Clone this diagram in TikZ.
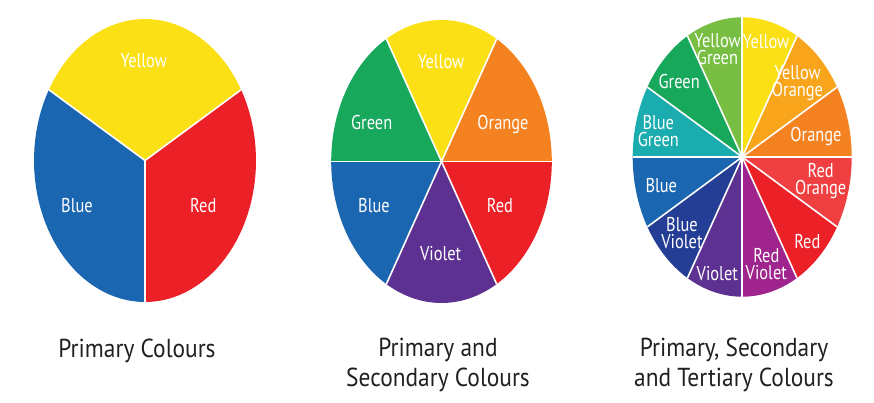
\documentclass[tikz,border=0pt]{standalone}
\usepackage{fontspec}
\setmainfont[FakeStretch=0.82]{PT Sans}
\newfontfamily\cwtitlefont[FakeStretch=0.9]{PT Sans}
\definecolor{cyel}{HTML}{FCE016}
\definecolor{cred}{HTML}{EC2027}
\definecolor{cblu}{HTML}{1B66B1}
\definecolor{cgrn}{HTML}{17A85C}
\definecolor{corg}{HTML}{F58221}
\definecolor{cvio}{HTML}{5D3191}
\definecolor{cyg}{HTML}{77BE43}
\definecolor{cyo}{HTML}{F9A51B}
\definecolor{cro}{HTML}{EF3F41}
\definecolor{crv}{HTML}{A0248E}
\definecolor{cbv}{HTML}{243E96}
\definecolor{cbg}{HTML}{1AACAF}
\definecolor{ctitle}{HTML}{231F20}
\newcommand\cwsector[5]{\fill[#5] (0,0) -- plot[domain=#3:#4,samples=40] ({#1*cos(\x)},{-#2*sin(\x)}) -- cycle;}
\newcommand\cwsep[3]{\draw[sepline] (0,0) -- ({#1*cos(#3)},{-#2*sin(#3)});}
\begin{document}
\begin{tikzpicture}[x=1pt,y=-1pt,
  sepline/.style={white,line width=1.6pt},
  lab/.style={text=white,font=\fontsize{20}{17}\selectfont,align=center,inner sep=0pt,anchor=base},
  title/.style={text=ctitle,font=\cwtitlefont\fontsize{26}{30}\selectfont,align=center,inner sep=0pt,anchor=base}]
\path[use as bounding box] (0,0) rectangle (874,403);
% wheel 1
\begin{scope}[shift={(145,160.5)}]
\cwsector{111}{141.5}{30}{150}{cyel}
\cwsector{111}{141.5}{150}{270}{cblu}
\cwsector{111}{141.5}{270}{390}{cred}
\cwsep{111}{141.5}{30}\cwsep{111}{141.5}{150}\cwsep{111}{141.5}{270}
\end{scope}
\node[lab] (w1y) at (143.7,67.7) {Yellow};
\node[lab] (w1b) at (77,212.3) {Blue};
\node[lab] (w1r) at (203.3,212.3) {Red};
% wheel 2
\begin{scope}[shift={(441.5,161.5)}]
\cwsector{110.3}{141.5}{0}{60}{corg}
\cwsector{110.3}{141.5}{60}{120}{cyel}
\cwsector{110.3}{141.5}{120}{180}{cgrn}
\cwsector{110.3}{141.5}{180}{240}{cblu}
\cwsector{110.3}{141.5}{240}{300}{cvio}
\cwsector{110.3}{141.5}{300}{360}{cred}
\foreach \a in {0,60,...,300}{\cwsep{110.3}{141.5}{\a}}
\end{scope}
\node[lab] (w2y) at (441,69) {Yellow};
\node[lab] (w2g) at (371.7,130) {Green};
\node[lab] (w2o) at (503,130) {Orange};
\node[lab] (w2b) at (374,212.3) {Blue};
\node[lab] (w2r) at (500,212.3) {Red};
\node[lab] (w2v) at (440.7,260) {Violet};
% wheel 3
\begin{scope}[shift={(742.2,157)}]
\cwsector{109.5}{139.7}{0}{30}{corg}
\cwsector{109.5}{139.7}{30}{60}{cyo}
\cwsector{109.5}{139.7}{60}{90}{cyel}
\cwsector{109.5}{139.7}{90}{120}{cyg}
\cwsector{109.5}{139.7}{120}{150}{cgrn}
\cwsector{109.5}{139.7}{150}{180}{cbg}
\cwsector{109.5}{139.7}{180}{210}{cblu}
\cwsector{109.5}{139.7}{210}{240}{cbv}
\cwsector{109.5}{139.7}{240}{270}{cvio}
\cwsector{109.5}{139.7}{270}{300}{crv}
\cwsector{109.5}{139.7}{300}{330}{cred}
\cwsector{109.5}{139.7}{330}{360}{cro}
\foreach \a in {0,30,...,330}{\cwsep{109.5}{139.7}{\a}}
\end{scope}
\node[lab] (w3y) at (766,48.3) {Yellow};
\node[lab] (w3yg) at (717.5,65) {Yellow\\Green};
\node[lab] (w3g) at (679.2,88.3) {Green};
\node[lab] (w3bg) at (658.3,146.7) {Blue\\Green};
\node[lab] (w3b) at (661.3,192.7) {Blue};
\node[lab] (w3bv) at (682,248.3) {Blue\\Violet};
\node[lab] (w3v) at (717.3,280) {Violet};
\node[lab] (w3rv) at (766.3,279.3) {Red\\Violet};
\node[lab] (w3r) at (807.3,248.3) {Red};
\node[lab] (w3ro) at (820.7,195) {Red\\Orange};
\node[lab] (w3o) at (816,141.7) {Orange};
\node[lab] (w3yo) at (797.5,96.7) {Yellow\\Orange};
% titles
\node[title] (t1) at (137,357.7) {Primary Colours};
\node[title] (t2) at (438,386) {Primary and\\Secondary Colours};
\node[title] (t3) at (734,386) {Primary, Secondary\\and Tertiary Colours};
\end{tikzpicture}
\end{document}
